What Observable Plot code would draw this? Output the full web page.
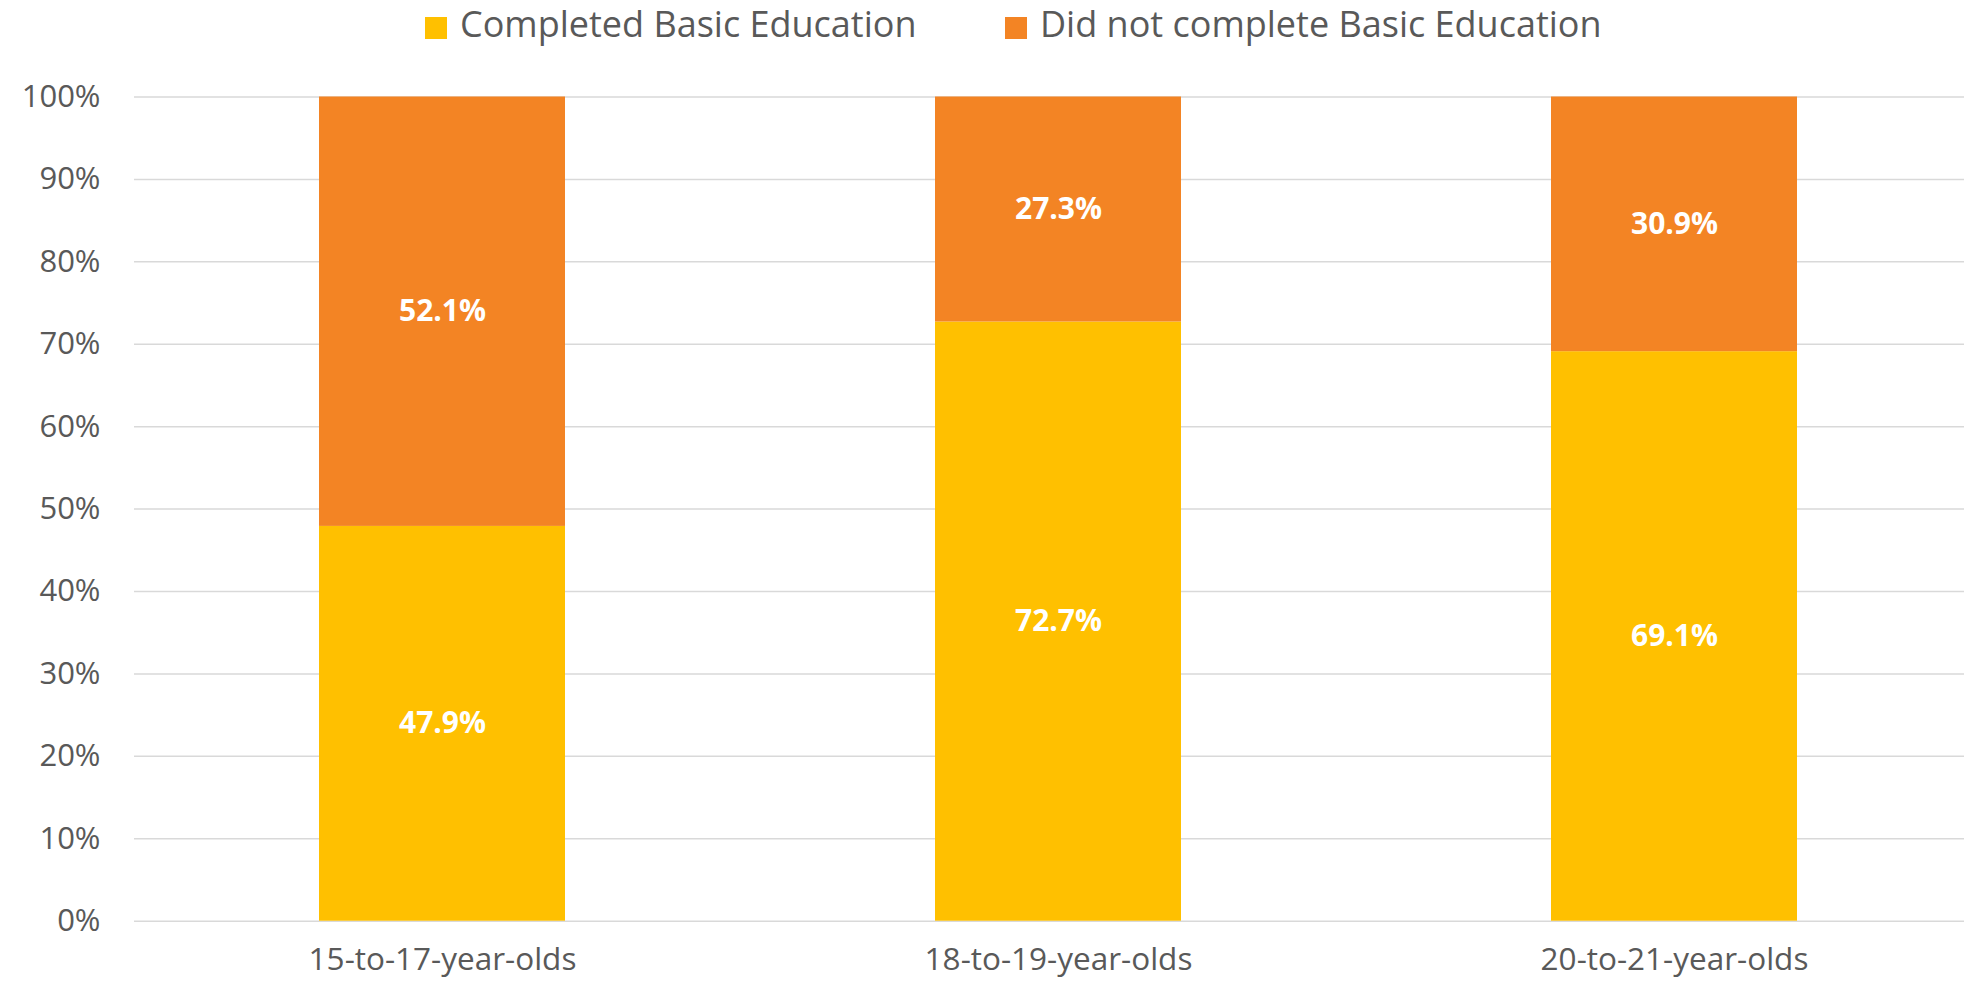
<!DOCTYPE html>
<html>
<head>
<meta charset="utf-8">
<script src="https://cdn.jsdelivr.net/npm/d3@7"></script>
<script src="https://cdn.jsdelivr.net/npm/@observablehq/plot@0.6"></script>
<style>
  html, body { margin: 0; padding: 0; background: #fff; overflow: hidden; }
  body { width: 1964px; height: 982px; position: relative; font-family: "Open Sans", "Noto Sans", sans-serif; }
  #legend { position: relative; height: 50px; }
  .item { position: absolute; top: 0; height: 46px; display: flex; align-items: center; font-size: 36px; color: #595959; white-space: nowrap; }
  .sw { width: 22px; height: 22px; margin-right: 13px; position: relative; top: 5px; }
  #chart svg { display: block; }
</style>
</head>
<body>
<div id="legend"></div>
<div id="chart"></div>
<script>
const groups = ["15-to-17-year-olds", "18-to-19-year-olds", "20-to-21-year-olds"];
const seriesNames = ["Completed Basic Education", "Did not complete Basic Education"];
const completed = [47.9, 72.7, 69.1];
const notCompleted = [52.1, 27.3, 30.9];
const colors = ["#FFC000", "#F38424"];
const yTicks = [0, 0.1, 0.2, 0.3, 0.4, 0.5, 0.6, 0.7, 0.8, 0.9, 1.0];

const rows = [];
groups.forEach((g, i) => {
  rows.push({group: g, series: seriesNames[0], value: completed[i] / 100});
  rows.push({group: g, series: seriesNames[1], value: notCompleted[i] / 100});
});

// legend
const legend = document.getElementById("legend");
const legendLeft = [425, 1005];
seriesNames.forEach((s, i) => {
  const d = document.createElement("div");
  d.className = "item";
  d.style.left = legendLeft[i] + "px";
  d.innerHTML = `<span class="sw" style="background:${colors[i]}"></span><span>${s}</span>`;
  legend.appendChild(d);
});

const plot = Plot.plot({
  width: 1964,
  height: 932,
  marginLeft: 134,
  marginRight: 0,
  marginTop: 46.5,
  marginBottom: 61.3,
  style: {fontFamily: "'Open Sans', 'Noto Sans', sans-serif", color: "#595959", background: "#fff"},
  x: {domain: groups, range: [134.6, 1982.7], paddingInner: 0.6, paddingOuter: 0.3, label: null},
  y: {domain: [0, 1], label: null},
  color: {domain: seriesNames, range: colors},
  marks: [
    Plot.axisY({ticks: yTicks, tickFormat: d3.format(".0%"), tickSize: 0, tickPadding: 34, fontSize: 31, label: null, fill: "#595959"}),
    Plot.gridY({ticks: yTicks, stroke: "#d9d9d9", strokeOpacity: 1, strokeWidth: 1.5}),
    Plot.barY(rows, Plot.stackY({x: "group", y: "value", fill: "series", order: seriesNames})),
    Plot.text(rows, Plot.stackY({x: "group", y: "value", z: "series", order: seriesNames, text: d => (d.value * 100).toFixed(1) + "%", fill: "white", fontWeight: "bold", fontSize: 30})),
    Plot.axisX({tickSize: 0, tickPadding: 26, fontSize: 31.5, label: null, fill: "#595959"})
  ]
});
document.getElementById("chart").appendChild(plot);
</script>
</body>
</html>
